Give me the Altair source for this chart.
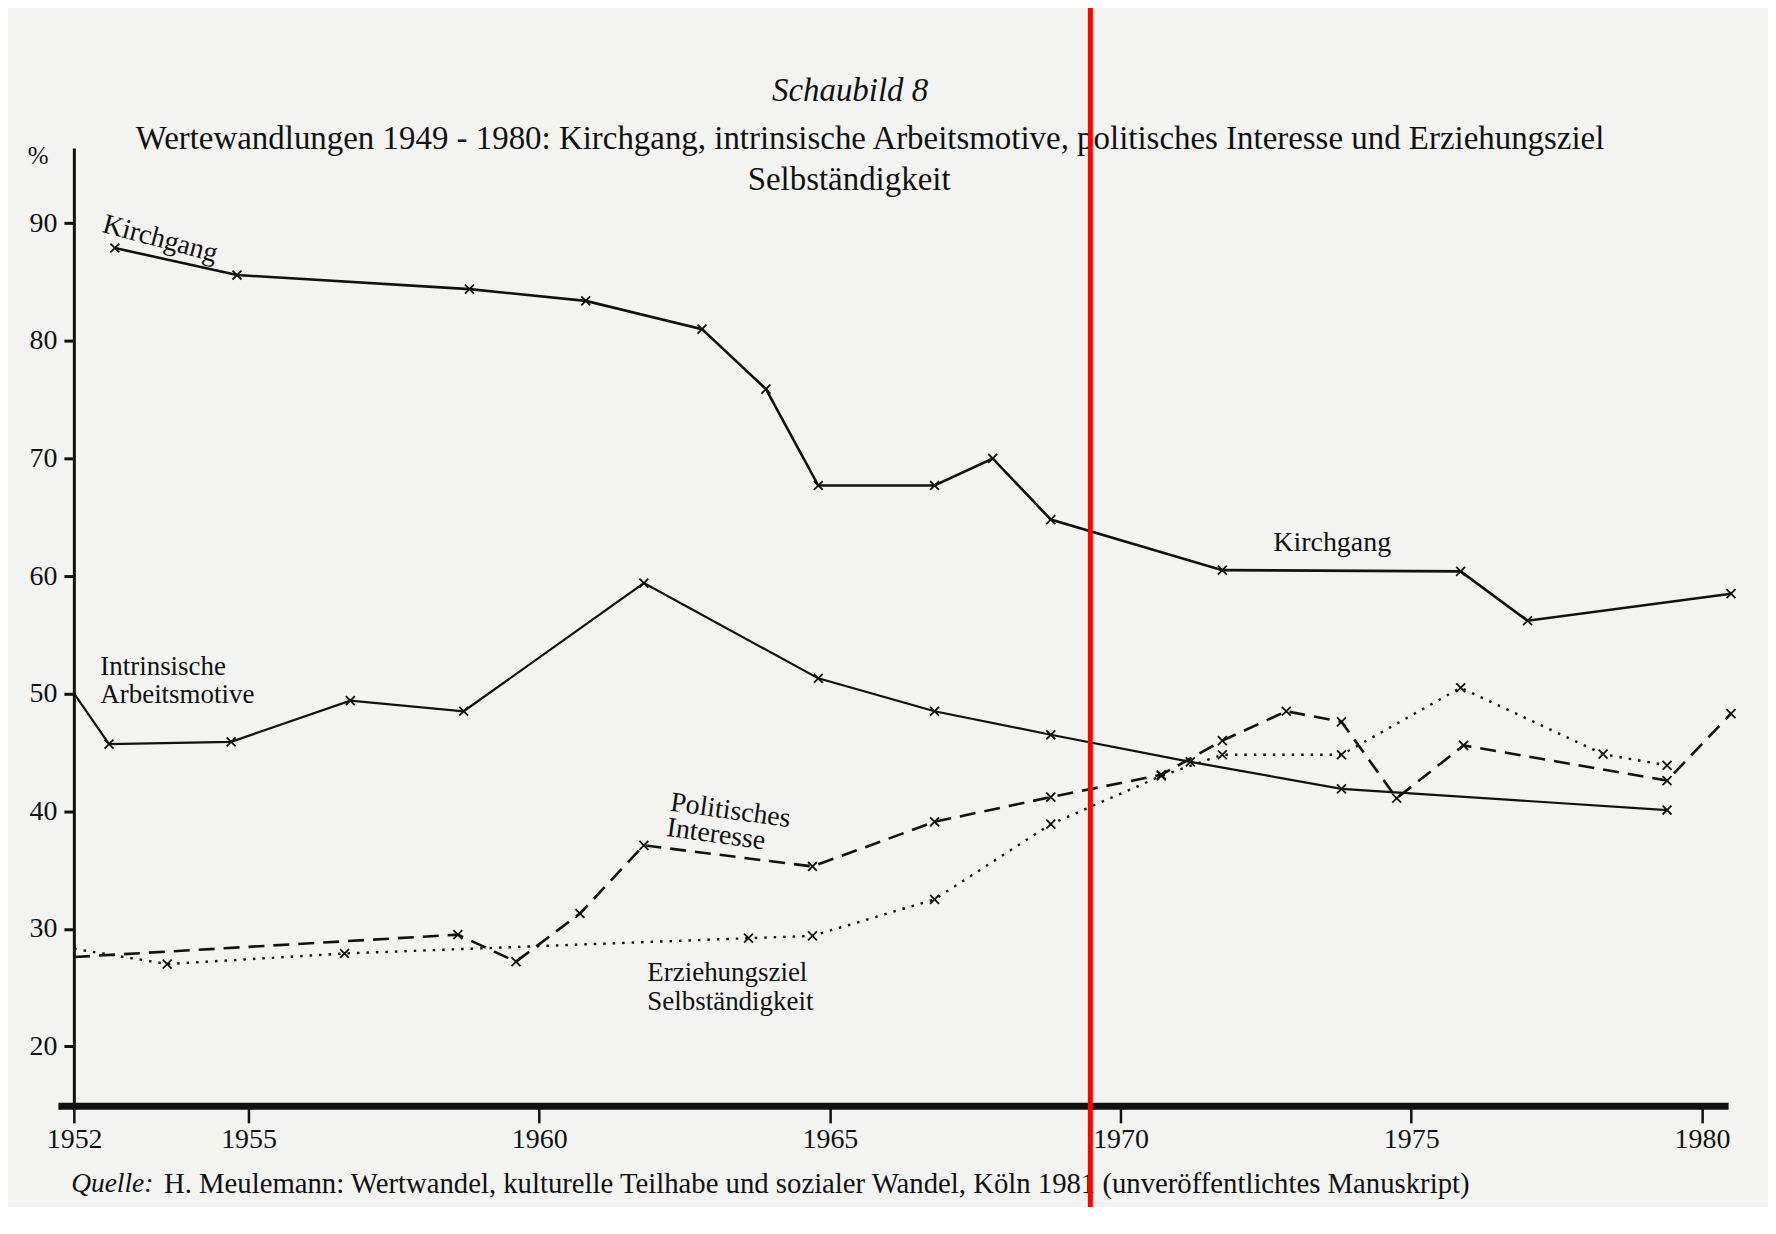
import altair as alt
import pandas as pd

FONT = "Liberation Serif"
INK = "#111111"

# ---- data ----
kirch_year = [1952.7, 1954.8, 1958.8, 1960.8, 1962.8, 1963.9, 1964.8, 1966.8, 1967.8, 1968.8, 1971.75, 1975.85, 1977.0, 1980.5]
kirch_val = [87.9, 85.6, 84.4, 83.4, 81.0, 75.9, 67.7, 67.7, 70.0, 64.8, 60.5, 60.4, 56.2, 58.5]

intr_year = [1952.0, 1952.6, 1954.7, 1956.75, 1958.7, 1961.8, 1964.8, 1966.8, 1968.8, 1971.2, 1973.8, 1979.4]
intr_val = [50.0, 45.7, 45.9, 49.4, 48.5, 59.4, 51.3, 48.5, 46.5, 44.2, 41.9, 40.1]

pol_year = [1952.0, 1958.6, 1959.6, 1960.7, 1961.8, 1964.7, 1966.8, 1968.8, 1970.7, 1971.75, 1972.85, 1973.8, 1974.75, 1975.9, 1979.4, 1980.5]
pol_val = [27.6, 29.5, 27.2, 31.3, 37.1, 35.3, 39.1, 41.2, 43.1, 46.0, 48.5, 47.6, 41.1, 45.6, 42.6, 48.3]

erz_year = [1952.0, 1953.6, 1956.65, 1963.6, 1964.7, 1966.8, 1968.8, 1970.7, 1971.75, 1973.8, 1975.85, 1978.3, 1979.4]
erz_val = [28.3, 27.0, 27.9, 29.2, 29.4, 32.5, 38.9, 43.0, 44.8, 44.8, 50.5, 44.85, 43.9]

x_ticks = [1952, 1955, 1960, 1965, 1970, 1975, 1980]
y_ticks = [20, 30, 40, 50, 60, 70, 80, 90]

title_lines = [
    "Schaubild 8",
    "Wertewandlungen 1949 - 1980: Kirchgang, intrinsische Arbeitsmotive, politisches Interesse und Erziehungsziel",
    "Selbständigkeit",
]
source_label = "Quelle:"
source_text = "H. Meulemann: Wertwandel, kulturelle Teilhabe und sozialer Wandel, Köln 1981 (unveröffentlichtes Manuskript)"

# series labels (text, year, value, angle)
lab_center_text = ["Kirchgang", "Kirchgang", "Politisches", "Interesse"]
lab_center_year = [1953.48, 1973.64, 1963.29, 1963.04]
lab_center_val = [88.64, 62.79, 40.02, 38.0]
lab_center_angle = [15, 0, 8, 8]

lab_left_text = ["Intrinsische", "Arbeitsmotive", "Erziehungsziel", "Selbständigkeit"]
lab_left_year = [1952.45, 1952.45, 1961.86, 1961.86]
lab_left_val = [52.3, 49.86, 26.28, 23.78]

marker_year = 1969.48  # red vertical line

# ---- frames ----
def frame(years, vals, name):
    return pd.DataFrame({"year": years, "value": vals, "series": name, "order": range(len(years))})

df_k = frame(kirch_year, kirch_val, "Kirchgang")
df_i = frame(intr_year, intr_val, "Intrinsische Arbeitsmotive")
df_p = frame(pol_year, pol_val, "Politisches Interesse")
df_e = frame(erz_year, erz_val, "Erziehungsziel Selbständigkeit")
df_all = pd.concat([df_k, df_i, df_p, df_e], ignore_index=True)

W, H = 1674, 960
X_DOM = [1951.72, 1980.45]
Y_DOM = [14.94, 96.4]

xenc = alt.X(
    "year:Q",
    scale=alt.Scale(domain=X_DOM, nice=False, zero=False),
    axis=alt.Axis(
        values=x_ticks, format="d", title=None, grid=False,
        domainWidth=7, domainColor=INK, tickColor=INK, tickWidth=2.5, tickSize=17,
        labelFont=FONT, labelFontSize=28, labelPadding=3, labelColor=INK,
    ),
)
yenc = alt.Y(
    "value:Q",
    scale=alt.Scale(domain=Y_DOM, nice=False, zero=False),
    axis=alt.Axis(
        values=y_ticks, title=None, grid=False, offset=-16,
        domainWidth=3, domainColor=INK, tickColor=INK, tickWidth=3, tickSize=10,
        labelFont=FONT, labelFontSize=28, labelPadding=7, labelColor=INK,
    ),
)


def line(df, width, dash=None):
    kw = dict(color=INK, strokeWidth=width, strokeCap="butt")
    if dash:
        kw["strokeDash"] = dash
    return alt.Chart(df).mark_line(**kw).encode(x=xenc, y=yenc, order="order:Q")


lines = [
    line(df_k, 2.6),
    line(df_i, 2.2),
    line(df_p, 2.6, [16, 9]),
    line(df_e, 2.4, [2.5, 7]),
]

markers = alt.Chart(df_all).transform_filter("datum.year > 1952.05").mark_point(
    shape="M-1,-1L1,1M-1,1L1,-1", filled=False, stroke=INK, strokeWidth=1.8, size=80, opacity=1
).encode(x=alt.X("year:Q"), y=alt.Y("value:Q"))

lab_c = pd.DataFrame({"t": lab_center_text, "year": lab_center_year, "value": lab_center_val, "ang": lab_center_angle})
lab_l = pd.DataFrame({"t": lab_left_text, "year": lab_left_year, "value": lab_left_val})

labels_c = alt.Chart(lab_c).mark_text(font=FONT, fontSize=28, color=INK, align="center", baseline="middle").encode(
    x="year:Q", y="value:Q", text="t:N", angle=alt.Angle("ang:Q", scale=None)
)
labels_l = alt.Chart(lab_l).mark_text(font=FONT, fontSize=27, color=INK, align="left", baseline="middle").encode(
    x="year:Q", y="value:Q", text="t:N"
)

one = pd.DataFrame({"a": [0]})
pct = alt.Chart(one).mark_text(font=FONT, fontSize=25, color=INK, align="center", baseline="middle", dx=-36, text="%").encode(
    x=alt.X(datum=1952), y=alt.Y(datum=95.7)
)

red = alt.Chart(one).mark_rule(color="#ff0000", strokeWidth=5).encode(
    x=alt.X(datum=marker_year), y=alt.value(-160), y2=alt.value(1100)
)

src1 = alt.Chart(one).mark_text(font=FONT, fontSize=27.5, fontStyle="italic", color=INK, align="left", baseline="middle", dx=-3, text=source_label).encode(
    x=alt.X(datum=1952), y=alt.value(1038)
)
src2 = alt.Chart(one).mark_text(font=FONT, fontSize=28.8, color=INK, align="left", baseline="middle", dx=90, text=source_text).encode(
    x=alt.X(datum=1952), y=alt.value(1038)
)

t1 = alt.Chart(one).mark_text(font=FONT, fontSize=33, fontStyle="italic", color=INK, align="center", baseline="middle", text=title_lines[0]).encode(
    x=alt.value(794), y=alt.value(-57)
)
t2 = alt.Chart(one).mark_text(font=FONT, fontSize=33, color=INK, align="center", baseline="middle", text=title_lines[1]).encode(
    x=alt.value(814), y=alt.value(-9)
)
t3 = alt.Chart(one).mark_text(font=FONT, fontSize=33, color=INK, align="center", baseline="middle", text=title_lines[2]).encode(
    x=alt.value(793), y=alt.value(32)
)

chart = alt.layer(*lines, markers, labels_c, labels_l, pct, src1, src2, t1, t2, t3, red).properties(
    width=W,
    height=H,
    autosize=alt.AutoSizeParams(type="none"),
    padding={"left": 50, "top": 139, "right": 40, "bottom": 100},
    background="#f3f3f2",
).configure_view(stroke=None)

chart.save("out.html", embed_options={"renderer": "svg", "actions": False})
